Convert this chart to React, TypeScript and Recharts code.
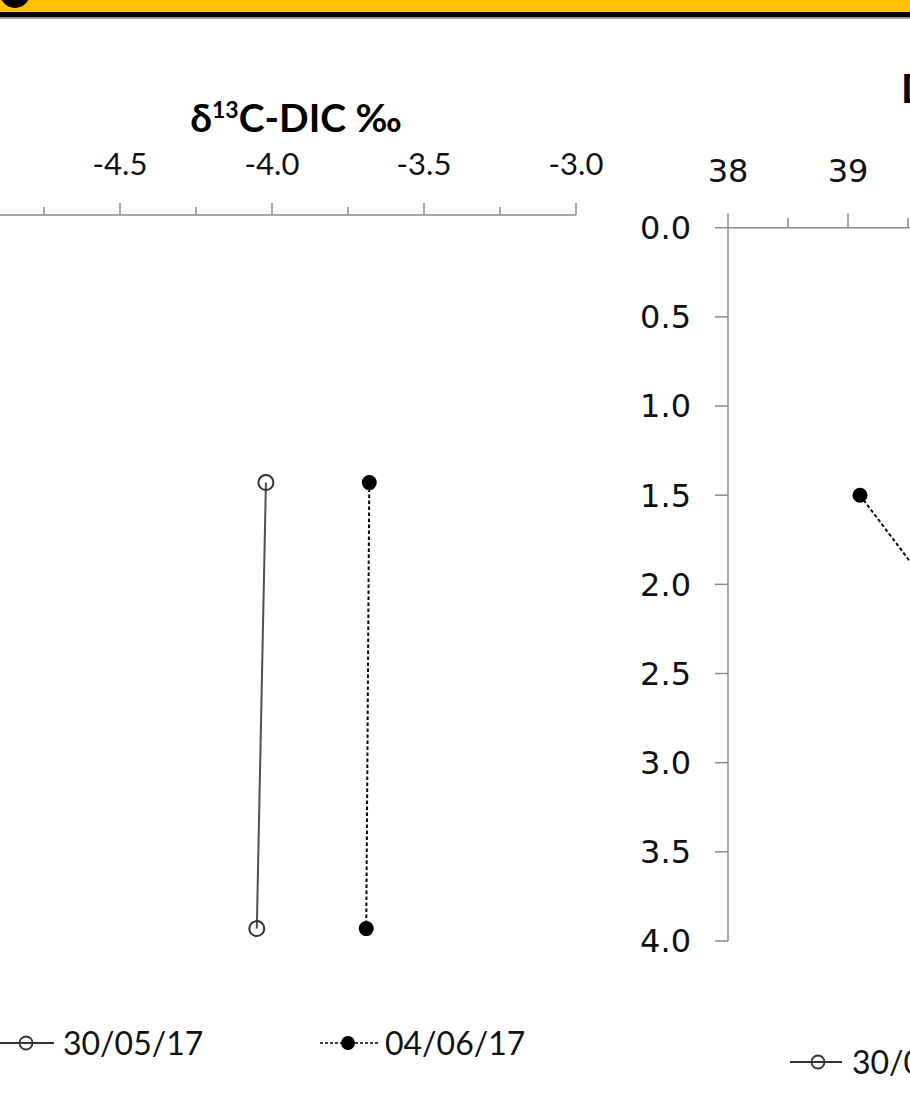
import React from 'react';
import { ScatterChart, Scatter, XAxis, YAxis, Legend } from 'recharts';

// ---------------- data ----------------
const seriesLabels = ['30/05/17', '04/06/17'];

// left panel: δ13C-DIC (‰) vs depth (m)
const leftDepths = [1.5, 4.0];
const leftDicMay = [-4.02, -4.05];
const leftDicJun = [-3.68, -3.69];
const leftLabelTicks = [-4.5, -4.0, -3.5, -3.0];
const leftMajorTicks = [-5.0, -4.5, -4.0, -3.5, -3.0];
const leftMinorTicks = [-4.75, -4.25, -3.75, -3.25];

// right panel (cut off at the picture's right edge)
const rightDepths = [1.5, 4.0];
const rightMay = [40.4, 41.2];
const rightJun = [39.1, 41.9];
const rightMajorTicks = [38, 39, 40, 41, 42];
const rightMinorTicks = [38.5, 39.5, 40.5, 41.5];
const depthTicks = [0, 0.5, 1.0, 1.5, 2.0, 2.5, 3.0, 3.5, 4.0];

const rightTitle = 'DIC mg/L';

// ---------------- styles ----------------
const AXIS = '#8a8a8a';
const CAL = 'Lato, "Open Sans", sans-serif';
const VER = "'DejaVu Sans', Verdana, sans-serif";

const toPts = (xs: number[], ys: number[]) => xs.map((x, i) => ({ x, y: ys[i] }));

const leftMay = toPts(leftDicMay, leftDepths);
const leftJun = toPts(leftDicJun, leftDepths);
const rMay = toPts(rightMay, rightDepths);
const rJun = toPts(rightJun, rightDepths);

const OpenDot = (p: any) => (
  <circle cx={p.cx} cy={p.cy} r={7.5} fill="none" stroke="#333" strokeWidth={2} />
);
const FilledDot = (p: any) => <circle cx={p.cx} cy={p.cy} r={7.5} fill="#000" stroke="none" />;

function makeTopTick(
  majors: number[],
  labelled: number[],
  majorLen: number,
  minorLen: number,
  gap: number,
  fontFamily: string,
  fontSize: number,
  fmt: (v: number) => string
) {
  return (props: any) => {
    const { x, y, payload } = props;
    const v = Number(payload.value);
    const isMajor = majors.some((m) => Math.abs(m - v) < 1e-9);
    const hasLabel = labelled.some((m) => Math.abs(m - v) < 1e-9);
    return (
      <g>
        <line x1={x} y1={y} x2={x} y2={y - (isMajor ? majorLen : minorLen)} stroke={AXIS} strokeWidth={1.5} />
        {hasLabel && (
          <text
            x={x}
            y={y - majorLen - gap}
            textAnchor="middle"
            style={{ fontFamily, fontSize }}
            fill="#111"
          >
            {fmt(v)}
          </text>
        )}
      </g>
    );
  };
}

const leftTick = makeTopTick(leftMajorTicks, leftLabelTicks, 12, 8, 28, CAL, 31, (v) => v.toFixed(1));
const rightTick = makeTopTick(rightMajorTicks, rightMajorTicks, 14, 10, 31.7, VER, 32, (v) => String(v));

type LegendItem = { left: number; width: number; dot: number; textLeft: number; filled: boolean };

function makeLegend(items: LegendItem[], height: number) {
  return () => (
    <div style={{ position: 'relative', width: 700, height }}>
      {items.map((it, i) => {
        const cy = height / 2;
        return (
          <React.Fragment key={i}>
            <svg
              width={it.width}
              height={height}
              style={{ position: 'absolute', left: it.left, top: 0, overflow: 'visible' }}
            >
              <line
                x1={0}
                y1={cy}
                x2={it.width}
                y2={cy}
                stroke={it.filled ? '#000' : '#333'}
                strokeWidth={it.filled ? 1.5 : 2}
                strokeDasharray={it.filled ? '3 2' : undefined}
              />
              {it.filled ? (
                <circle cx={it.dot} cy={cy} r={7} fill="#000" />
              ) : (
                <circle cx={it.dot} cy={cy} r={6.5} fill="none" stroke="#333" strokeWidth={1.8} />
              )}
            </svg>
            <span
              style={{
                position: 'absolute',
                left: it.textLeft,
                top: 0,
                height,
                lineHeight: `${height}px`,
                fontFamily: CAL,
                fontSize: 32,
                color: '#111',
                whiteSpace: 'nowrap',
              }}
            >
              {seriesLabels[i]}
            </span>
          </React.Fragment>
        );
      })}
    </div>
  );
}

// layout constants (pixels)
const LEFT_X0 = -32; // plot left of left panel
const LEFT_PLOT_W = 608;
const LEFT_TOP = 215;
const LEFT_BOTTOM = 928.6;

const R_YAXIS_W = 110;
const R_AXIS_X = 727.7;
const R_PLOT_W = 480;
const R_TOP = 227.7;
const R_BOTTOM = 941;

const H = 1093;

const leftLegend = makeLegend(
  [
    { left: 0, width: 54, dot: 26, textLeft: 63, filled: false },
    { left: 320, width: 58, dot: 28, textLeft: 385, filled: true },
  ],
  40
);
const rightLegend = makeLegend(
  [
    { left: 0, width: 52, dot: 28, textLeft: 62, filled: false },
    { left: 330, width: 58, dot: 28, textLeft: 395, filled: true },
  ],
  40
);

export default function App() {
  return (
    <div
      style={{
        position: 'absolute',
        left: 0,
        top: 0,
        width: 910,
        height: H,
        overflow: 'hidden',
        background: '#fff',
      }}
    >
      {/* header band */}
      <div style={{ position: 'absolute', left: 0, top: 0, width: 910, height: 12, background: '#FFC000' }} />
      <div style={{ position: 'absolute', left: 0, top: 12, width: 910, height: 5, background: '#000' }} />
      <div style={{ position: 'absolute', left: 0, top: 17, width: 910, height: 1.5, background: '#9a9a9a' }} />
      <div
        style={{
          position: 'absolute',
          left: 0,
          top: -8,
          width: 30,
          height: 16,
          background: '#000',
          borderRadius: '0 0 15px 15px',
        }}
      />

      {/* left panel */}
      <div style={{ position: 'absolute', left: LEFT_X0, top: 0 }}>
        <ScatterChart
          width={LEFT_PLOT_W + 60}
          height={H}
          margin={{ top: 0, right: 60, bottom: H - LEFT_BOTTOM, left: 0 }}
        >
          <XAxis
            type="number"
            dataKey="x"
            orientation="top"
            height={LEFT_TOP}
            domain={[-5, -3]}
            ticks={[...leftMajorTicks, ...leftMinorTicks].sort((a, b) => a - b)}
            interval={0}
            tickSize={0}
            tickMargin={0}
            tickLine={false}
            axisLine={{ stroke: AXIS, strokeWidth: 1.5 }}
            tick={leftTick}
          />
          <YAxis type="number" dataKey="y" domain={[0, 4]} reversed hide width={0} />
          <Scatter
            name={seriesLabels[0]}
            data={leftMay}
            line={{ stroke: '#505050', strokeWidth: 2 }}
            lineType="joint"
            shape={OpenDot}
            isAnimationActive={false}
          />
          <Scatter
            name={seriesLabels[1]}
            data={leftJun}
            line={{ stroke: '#000', strokeWidth: 2, strokeDasharray: '3.5 2.5' }}
            lineType="joint"
            shape={FilledDot}
            isAnimationActive={false}
          />
          <Legend
            layout="horizontal"
            verticalAlign="middle"
            align="center"
            content={leftLegend}
            wrapperStyle={{ position: 'absolute', left: -LEFT_X0, top: 1043 - 20, width: 700, height: 40 }}
          />
        </ScatterChart>
      </div>

      {/* right panel */}
      <div style={{ position: 'absolute', left: R_AXIS_X - R_YAXIS_W, top: 0 }}>
        <ScatterChart
          width={R_YAXIS_W + R_PLOT_W + 20}
          height={H}
          margin={{ top: 0, right: 20, bottom: H - R_BOTTOM, left: 0 }}
        >
          <XAxis
            type="number"
            dataKey="x"
            orientation="top"
            height={R_TOP}
            domain={[38, 42]}
            ticks={[...rightMajorTicks, ...rightMinorTicks].sort((a, b) => a - b)}
            interval={0}
            tickSize={0}
            tickMargin={0}
            tickLine={false}
            axisLine={{ stroke: AXIS, strokeWidth: 1.5 }}
            tick={rightTick}
          />
          <YAxis
            type="number"
            dataKey="y"
            domain={[0, 4]}
            reversed
            ticks={depthTicks}
            interval={0}
            width={R_YAXIS_W}
            tickSize={13}
            tickMargin={24}
            tickFormatter={(v: number) => v.toFixed(1)}
            tickLine={{ stroke: AXIS, strokeWidth: 1.5 }}
            axisLine={{ stroke: AXIS, strokeWidth: 1.5 }}
            tick={{ fontSize: 32, fill: '#111', style: { fontFamily: VER } }}
          />
          <Scatter
            name={seriesLabels[0]}
            data={rMay}
            line={{ stroke: '#505050', strokeWidth: 2 }}
            lineType="joint"
            shape={OpenDot}
            isAnimationActive={false}
          />
          <Scatter
            name={seriesLabels[1]}
            data={rJun}
            line={{ stroke: '#000', strokeWidth: 2, strokeDasharray: '3.5 2.5' }}
            lineType="joint"
            shape={FilledDot}
            isAnimationActive={false}
          />
          <Legend
            layout="horizontal"
            verticalAlign="middle"
            align="center"
            content={rightLegend}
            wrapperStyle={{
              position: 'absolute',
              left: 790 - (R_AXIS_X - R_YAXIS_W),
              top: 1062 - 20,
              width: 700,
              height: 40,
            }}
          />
        </ScatterChart>
      </div>

      {/* titles */}
      <svg width={910} height={H} style={{ position: 'absolute', left: 0, top: 0, pointerEvents: 'none' }}>
        <text x={296} y={132} textAnchor="middle" fontFamily={CAL} fontWeight={700} fontSize={39} fill="#000">
          <tspan>δ</tspan>
          <tspan fontSize={23} dy={-14}>
            13
          </tspan>
          <tspan dy={14}>C-DIC ‰</tspan>
        </text>
        <text x={901} y={103} fontFamily={CAL} fontWeight={700} fontSize={40} fill="#000">
          {rightTitle}
        </text>
      </svg>
    </div>
  );
}
